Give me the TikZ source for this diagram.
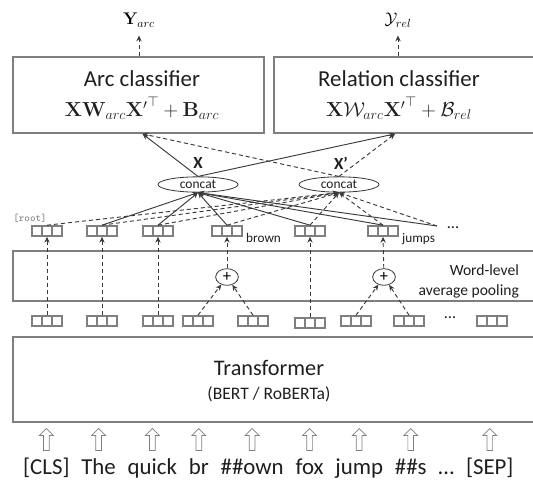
\documentclass[tikz,border=0pt]{standalone}
\usepackage{amsmath,amssymb}
\usepackage[no-math]{fontspec}
\setmainfont{Carlito}
\usetikzlibrary{calc,positioning,arrows.meta,shapes.geometric,shapes.arrows}
\definecolor{linegray}{HTML}{3A3A3A}
\definecolor{boxgray}{HTML}{7F7F7F}
\definecolor{textgray}{HTML}{1E1E1E}
\tikzstyle{bigbox}=[draw=boxgray, line width=1.5pt, inner sep=0pt]
\tikzstyle{vecbox}=[draw=boxgray, line width=1.4pt, minimum width=0.9cm, minimum height=0.3cm, inner sep=0pt]
\tikzstyle{solidarrow}=[draw=linegray, line width=0.8pt, -{Stealth[length=5pt,width=4.5pt]}]
\tikzstyle{dasharrow}=[solidarrow, dash pattern=on 3.5pt off 2.5pt]
\tikzstyle{concatnode}=[ellipse, draw=linegray, line width=0.7pt, minimum width=2.4cm, minimum height=0.46cm, inner sep=0pt, font=\fontsize{11.5}{12}\selectfont, text=textgray]
\tikzstyle{plusnode}=[ellipse, draw=linegray, line width=0.7pt, minimum width=0.68cm, minimum height=0.5cm, inner sep=0pt, font=\fontsize{14}{14}\selectfont]
\tikzstyle{hollowup}=[single arrow, draw=boxgray, line width=0.6pt, shape border rotate=90, minimum height=0.66cm, inner sep=0.075cm, single arrow head extend=0.12cm]
\tikzstyle{token}=[font=\fontsize{19.5}{22}\selectfont, text=textgray, inner sep=0pt]
\tikzstyle{smalllabel}=[font=\fontsize{11.3}{12}\selectfont, text=textgray, anchor=base west, inner sep=0pt]
\newcommand{\wordvec}[3]{% name, x, y
  \node[vecbox] (#1) at (#2,#3) {};
  \draw[boxgray, line width=1.4pt] ($(#1.north west)!1/3!(#1.north east)$) -- ($(#1.south west)!1/3!(#1.south east)$)
    ($(#1.north west)!2/3!(#1.north east)$) -- ($(#1.south west)!2/3!(#1.south east)$);
}

\begin{document}
\begin{tikzpicture}[x=0.03cm, y=-0.03cm]
\useasboundingbox (0,0) rectangle (533,486);

% classifiers
\node[bigbox, minimum width=7.53cm, minimum height=2.28cm] (arcbox) at (138.5,95) {};
\node[bigbox, minimum width=7.86cm, minimum height=2.28cm] (relbox) at (405,95) {};
\node[align=center, text=textgray, font=\fontsize{19.5}{21}\selectfont] (arctext) at (142,95)
  {Arc classifier\\[5pt] {\fontsize{17.5}{21}\selectfont $\mathbf{X}\mathbf{W}_{arc}{\mathbf{X}'}^{\top}+\mathbf{B}_{arc}$}};
\node[align=center, text=textgray, font=\fontsize{19.5}{21}\selectfont] (reltext) at (399,95)
  {Relation classifier\\[5pt] {\fontsize{17.5}{21}\selectfont $\mathbf{X}\mathcal{W}_{arc}{\mathbf{X}'}^{\top}+\mathcal{B}_{rel}$}};
\node[font=\fontsize{14}{16}\selectfont, inner sep=1pt] (Yarc) at (139,20) {$\mathbf{Y}_{arc}$};
\node[font=\fontsize{14}{16}\selectfont, inner sep=1pt] (Yrel) at (398,20) {$\mathcal{Y}_{rel}$};
\draw[dasharrow, shorten >=6pt] (arcbox.north -| Yarc) -- (Yarc.south);
\draw[dasharrow, shorten >=6pt] (relbox.north -| Yrel) -- (Yrel.south);

% concat
\node[concatnode] (concatX) at (198,184.5) {concat};
\node[concatnode] (concatXp) at (339,184.5) {concat};
\node[font=\fontsize{14.5}{15}\selectfont\bfseries, text=textgray, inner sep=0pt] (Xlab) at (198,163) {X};
\node[font=\fontsize{14.5}{15}\selectfont\bfseries, text=textgray, inner sep=0pt] (Xplab) at (341,163) {X’};
\draw[solidarrow] (concatX.north) -- ([xshift=0.12cm]arcbox.south);
\draw[solidarrow] (concatX.north) -- ([xshift=-0.3cm]relbox.south);
\draw[dasharrow] (concatXp.north) -- ([xshift=0.12cm]arcbox.south);
\draw[dasharrow] (concatXp.north) -- ([xshift=-0.3cm]relbox.south);

% word vectors
\foreach \nm/\xx in {u1/47,u2/102,u3/158,u4/227,u5/310,u6/383}
  {\wordvec{\nm}{\xx}{231}}
\coordinate (moreU) at (437,226);
\node[font=\fontsize{14}{14}\selectfont, text=textgray] (dotsU) at (453,228) {\ldots};
\node[font=\fontsize{9}{10}\selectfont\ttfamily, text=boxgray, inner sep=0pt] (rootlab) at (30,218) {[root]};
\node[smalllabel] (brown) at (246,243) {brown};
\node[smalllabel] (jumps) at (402,243) {jumps};
\foreach \nm in {u2,u3,u4,u5,u6,moreU}
  {\draw[solidarrow] (\nm.north) -- (concatX.south);}
\foreach \nm in {u1,u2,u3,u4,u5,u6,moreU}
  {\draw[dasharrow] (\nm.north) -- (concatXp.south);}

% pooling
\node[bigbox, minimum width=15.69cm, minimum height=1.5cm] (poolbox) at (274.5,276) {};
\node[align=right, anchor=east, text=textgray, font=\fontsize{13.3}{17}\selectfont] (pooltext) at (523,281)
  {Word-level\\average pooling};
\node[plusnode] (plus1) at (227,277) {+};
\node[plusnode] (plus2) at (384,277) {+};

\foreach \nm/\xx in {l1/47,l2/102,l3/158,l4/198,l5/253,l7/356,l8/409,l9/492}
  {\wordvec{\nm}{\xx}{321}}
\wordvec{l6}{310}{323}
\node[font=\fontsize{14}{14}\selectfont, text=textgray] (dotsL) at (450,318) {\ldots};

\draw[dasharrow] (l1.north) -- (u1.south);
\draw[dasharrow] (l2.north) -- (u2.south);
\draw[dasharrow] (l3.north) -- (u3.south);
\draw[dasharrow] (l6.north) -- (u5.south);
\draw[dasharrow] (plus1) -- (u4.south);
\draw[dasharrow] (plus2) -- (u6.south);
\draw[dasharrow] (l4.north) -- (plus1);
\draw[dasharrow] (l5.north) -- (plus1);
\draw[dasharrow] (l7.north) -- (plus2);
\draw[dasharrow] (l8.north) -- (plus2);

% transformer
\node[bigbox, minimum width=15.69cm, minimum height=2.55cm] (trbox) at (274.5,379.5) {};
\node[align=center, text=textgray, font=\fontsize{19}{22}\selectfont] (trtext) at (269,381)
  {Transformer\\[-1pt] {\fontsize{15}{22}\selectfont (BERT / RoBERTa)}};

% input tokens
\node[token, anchor=base west] (tok1) at (23,474) {[CLS]};
\foreach \tk [count=\i from 2] in {The,quick,br,\#\#own,fox,jump,\#\#s,\ldots,{[SEP]}}
  {\pgfmathtruncatemacro\j{\i-1}
   \node[token, base right=9.7pt of tok\j] (tok\i) {\tk};}
\coordinate (arrowrow) at (0,441);
\foreach \i in {1,...,8,10}
  {\node[hollowup] (up\i) at (tok\i |- arrowrow) {};}
\end{tikzpicture}
\end{document}
